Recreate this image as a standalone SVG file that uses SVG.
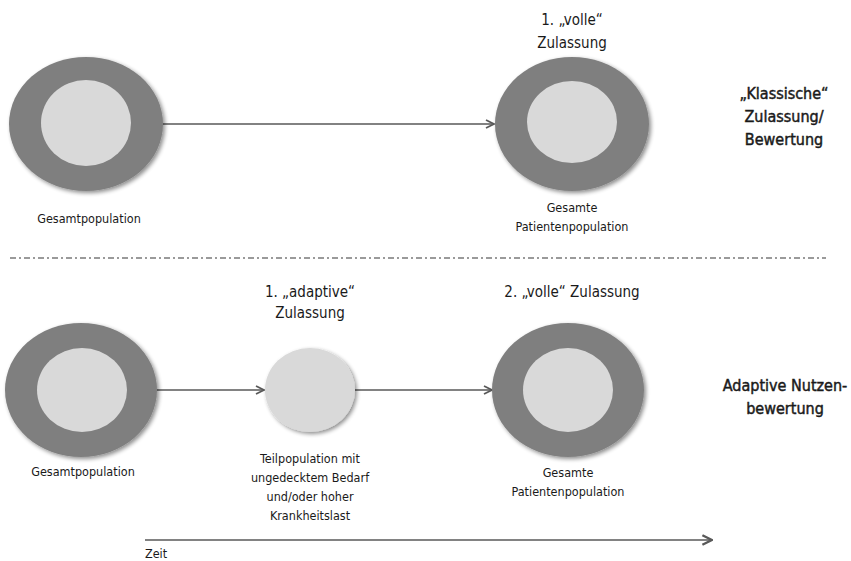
<svg xmlns="http://www.w3.org/2000/svg" width="851" height="561" viewBox="0 0 851 561">
  <style>
    text { font-family: "DejaVu Sans Condensed", "DejaVu Sans", sans-serif; font-stretch: condensed; fill: #1a1a1a; text-anchor: middle; }
    .sm { font-size: 12.5px; }
    .md { font-size: 15px; }
    .lg { font-size: 16px; stroke: #1a1a1a; stroke-width: 0.45px; }
    .outer { fill: #7f7f7f; }
    .inner { fill: #d9d9d9; }
    .conn { stroke: #595959; stroke-width: 1.6; fill: none; }
    .sep { stroke: #7a7a7a; stroke-width: 1.3; stroke-dasharray: 6 3 2 3; fill: none; }
  </style>
  <defs>
    <filter id="shadow" x="-20%" y="-20%" width="150%" height="150%">
      <feGaussianBlur in="SourceAlpha" stdDeviation="2"/>
      <feOffset dx="2" dy="2" result="b"/>
      <feComponentTransfer><feFuncA type="linear" slope="0.45"/></feComponentTransfer>
      <feMerge><feMergeNode/><feMergeNode in="SourceGraphic"/></feMerge>
    </filter>
    <marker id="chev" viewBox="0 0 10 10" refX="9" refY="5" markerWidth="10" markerHeight="10" markerUnits="userSpaceOnUse" orient="auto">
      <path d="M1,1 L9,5 L1,9" fill="none" stroke="#595959" stroke-width="1.8"/>
    </marker>
    <marker id="chev2" viewBox="0 0 10 10" refX="9" refY="5" markerWidth="12" markerHeight="12" markerUnits="userSpaceOnUse" orient="auto">
      <path d="M1,1 L9,5 L1,9" fill="none" stroke="#595959" stroke-width="2"/>
    </marker>
  </defs>

  <!-- connectors -->
  <g id="connectors">
    <line class="conn" x1="163" y1="124" x2="494" y2="124" marker-end="url(#chev)"/>
    <line class="conn" x1="157" y1="390" x2="264" y2="390" marker-end="url(#chev)"/>
    <line class="conn" x1="355" y1="390" x2="492" y2="390" marker-end="url(#chev)"/>
    <line class="conn" x1="145" y1="540" x2="712" y2="540" stroke-width="2" marker-end="url(#chev2)"/>
    <line class="sep" x1="10" y1="258" x2="826" y2="258"/>
  </g>

  <!-- classic approval row -->
  <g id="top-start">
    <g filter="url(#shadow)">
      <ellipse class="outer" cx="86" cy="124" rx="77" ry="67"/>
    </g>
    <ellipse class="inner" cx="86" cy="123" rx="45" ry="43"/>
    <text class="sm" x="89" y="222.5">Gesamtpopulation</text>
  </g>

  <g id="top-end">
    <text class="md" x="572" y="24.5">1. „volle“</text>
    <text class="md" x="572" y="47.5">Zulassung</text>
    <g filter="url(#shadow)">
      <ellipse class="outer" cx="572" cy="124" rx="77" ry="67"/>
    </g>
    <ellipse class="inner" cx="572" cy="122" rx="45" ry="41"/>
    <text class="sm" x="572" y="211.5">Gesamte</text>
    <text class="sm" x="572" y="230.5">Patientenpopulation</text>
  </g>

  <g id="top-title">
    <text class="lg" x="784" y="99">„Klassische“</text>
    <text class="lg" x="784" y="122">Zulassung/</text>
    <text class="lg" x="784" y="145">Bewertung</text>
  </g>

  <!-- adaptive approval row -->
  <g id="bottom-start">
    <g filter="url(#shadow)">
      <ellipse class="outer" cx="81" cy="390" rx="76" ry="67"/>
    </g>
    <ellipse class="inner" cx="82" cy="390" rx="45" ry="42"/>
    <text class="sm" x="83" y="475.5">Gesamtpopulation</text>
  </g>

  <g id="bottom-sub">
    <text class="md" x="310" y="296.5">1. „adaptive“</text>
    <text class="md" x="310" y="317.5">Zulassung</text>
    <g filter="url(#shadow)">
      <ellipse class="inner" cx="310" cy="390" rx="45" ry="42"/>
    </g>
    <text class="sm" x="310" y="462.5">Teilpopulation mit</text>
    <text class="sm" x="310" y="481.5">ungedecktem Bedarf</text>
    <text class="sm" x="310" y="500.5">und/oder hoher</text>
    <text class="sm" x="310" y="519.5">Krankheitslast</text>
  </g>

  <g id="bottom-end">
    <text class="md" x="572" y="296.5">2. „volle“ Zulassung</text>
    <g filter="url(#shadow)">
      <ellipse class="outer" cx="568" cy="390" rx="76" ry="67"/>
    </g>
    <ellipse class="inner" cx="568" cy="390" rx="45" ry="42"/>
    <text class="sm" x="568" y="476.5">Gesamte</text>
    <text class="sm" x="568" y="495.5">Patientenpopulation</text>
  </g>

  <g id="bottom-title">
    <text class="lg" x="785" y="391">Adaptive Nutzen-</text>
    <text class="lg" x="785" y="414">bewertung</text>
  </g>

  <g id="time-label">
    <text class="sm" x="145" y="557.5" style="text-anchor:start">Zeit</text>
  </g>
</svg>
